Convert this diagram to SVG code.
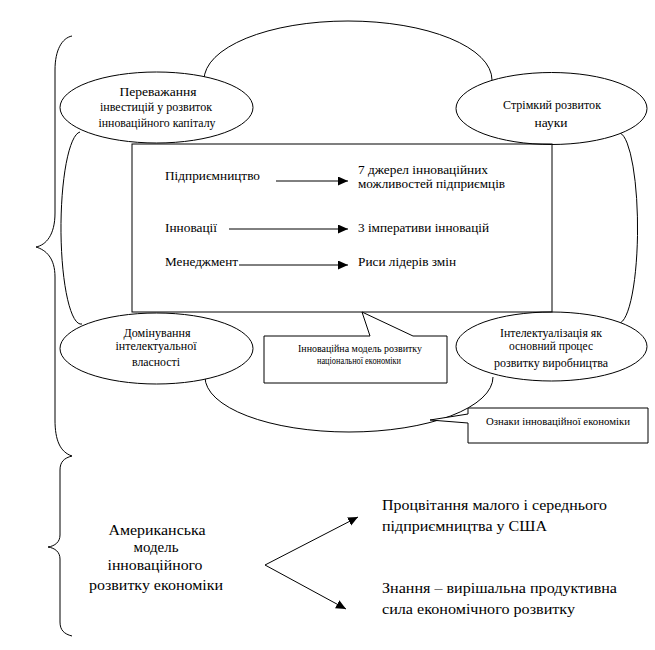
<svg xmlns="http://www.w3.org/2000/svg" width="655" height="650" viewBox="0 0 655 650" font-family="'Liberation Serif', 'Times New Roman', 'DejaVu Serif', serif">
<style>
.ln{fill:none;stroke:#000;stroke-width:1}
.nd{fill:#fff;stroke:#000;stroke-width:1}
text{font-family:'Liberation Serif','Times New Roman','DejaVu Serif',serif;fill:#000}
.e{font-size:12px;text-anchor:middle}
.c{font-size:12.5px}
.s{font-size:10px;text-anchor:middle}
.b{font-size:15px}
</style>
<defs>
<marker id="ah" markerUnits="userSpaceOnUse" markerWidth="11" markerHeight="10" refX="10" refY="4.5" orient="auto">
<path d="M0,0 L10,4.5 L0,9 Z" fill="#000"/>
</marker>
</defs>
<rect width="655" height="650" fill="#fff"/>
<g id="connectors">
<path class="ln" d="M72,36 C62,38 55,50 55,70 L55,213 C55,235 46,245 36,247 C46,250 55,258 55,277 L55,420 C55,440 60,452 72,456"/>
<path class="ln" d="M72,456 C64,458 60,462 60,470 L60,535 C60,542 55,546 48,547 C55,548 60,552 60,559 L60,622 C60,630 64,634 72,636"/>
<path class="ln" d="M204,80 A144,59 0 0 1 492,80"/>
<path class="ln" d="M205,377 A144,55 0 0 0 493,377"/>
<path class="ln" d="M80,132 A20,96 0 0 0 82,324"/>
<path class="ln" d="M620,133 A19,95 0 0 1 617,323"/>
<line class="ln" x1="276" y1="181" x2="348" y2="181" marker-end="url(#ah)"/>
<line class="ln" x1="229" y1="229" x2="348" y2="229" marker-end="url(#ah)"/>
<line class="ln" x1="239" y1="265" x2="348" y2="265" marker-end="url(#ah)"/>
<line class="ln" x1="265" y1="565" x2="358" y2="517" marker-end="url(#ah)"/>
<line class="ln" x1="265" y1="565" x2="346" y2="609" marker-end="url(#ah)"/>
</g>
<g id="n1"><ellipse class="nd" cx="156.5" cy="107.5" rx="96.5" ry="35.5"/>
<text class="e" x="158" y="96" textLength="77" lengthAdjust="spacingAndGlyphs">Переважання</text>
<text class="e" x="156" y="111" textLength="112" lengthAdjust="spacingAndGlyphs">інвестицій у розвиток</text>
<text class="e" x="157" y="127" textLength="117" lengthAdjust="spacingAndGlyphs">інноваційного капіталу</text></g>
<g id="n2"><ellipse class="nd" cx="551.5" cy="108.5" rx="95.5" ry="36"/>
<text class="e" x="552" y="109" textLength="98" lengthAdjust="spacingAndGlyphs">Стрімкий розвиток</text>
<text class="e" x="551" y="127" textLength="33" lengthAdjust="spacingAndGlyphs">науки</text></g>
<g id="n3"><ellipse class="nd" cx="156.5" cy="348.5" rx="96.5" ry="35.5"/>
<text class="e" x="157" y="337" textLength="67" lengthAdjust="spacingAndGlyphs">Домінування</text>
<text class="e" x="156" y="350" textLength="81" lengthAdjust="spacingAndGlyphs">інтелектуальної</text>
<text class="e" x="156" y="366" textLength="48" lengthAdjust="spacingAndGlyphs">власності</text></g>
<g id="n4"><ellipse class="nd" cx="551.5" cy="346.5" rx="95.5" ry="34.5"/>
<text class="e" x="551" y="337" textLength="102" lengthAdjust="spacingAndGlyphs">Інтелектуалізація як</text>
<text class="e" x="551" y="350" textLength="84" lengthAdjust="spacingAndGlyphs">основний процес</text>
<text class="e" x="551" y="367" textLength="114" lengthAdjust="spacingAndGlyphs">розвитку виробництва</text></g>
<g id="core"><rect class="ln" x="132" y="144" width="420" height="168"/>
<text class="c" x="165" y="180" textLength="95" lengthAdjust="spacingAndGlyphs">Підприємництво</text>
<text class="c" x="358" y="174" textLength="130" lengthAdjust="spacingAndGlyphs">7 джерел інноваційних</text>
<text class="c" x="358" y="188" textLength="147" lengthAdjust="spacingAndGlyphs">можливостей підприємців</text>
<text class="c" x="165" y="232" textLength="52" lengthAdjust="spacingAndGlyphs">Інновації</text>
<text class="c" x="358" y="232" textLength="131" lengthAdjust="spacingAndGlyphs">3 імперативи інновацій</text>
<text class="c" x="165" y="266" textLength="73" lengthAdjust="spacingAndGlyphs">Менеджмент</text>
<text class="c" x="358" y="266" textLength="98" lengthAdjust="spacingAndGlyphs">Риси лідерів змін</text></g>
<g id="callout1"><path class="nd" d="M264,336 L370,336 L362,312 L413,336 L447,336 L447,383 L264,383 Z"/>
<text class="s" x="360" y="352" textLength="124" lengthAdjust="spacingAndGlyphs">Інноваційна модель розвитку</text>
<text class="s" x="359" y="364" textLength="84" lengthAdjust="spacingAndGlyphs">національної економіки</text></g>
<g id="callout2"><path class="nd" d="M468,408 L648,408 L648,443 L468,443 L468,423 L430,420 L468,414 Z"/>
<text class="s" x="558" y="425" textLength="144" lengthAdjust="spacingAndGlyphs">Ознаки інноваційної економіки</text></g>
<g id="american">
<text class="b" x="157" y="535" text-anchor="middle" textLength="97" lengthAdjust="spacingAndGlyphs">Американська</text>
<text class="b" x="156" y="552" text-anchor="middle" textLength="45" lengthAdjust="spacingAndGlyphs">модель</text>
<text class="b" x="155" y="570" text-anchor="middle" textLength="95" lengthAdjust="spacingAndGlyphs">інноваційного</text>
<text class="b" x="156" y="590" text-anchor="middle" textLength="134" lengthAdjust="spacingAndGlyphs">розвитку економіки</text></g>
<g id="r1"><text class="b" x="382" y="510" textLength="225" lengthAdjust="spacingAndGlyphs">Процвітання малого і середнього</text>
<text class="b" x="382" y="531" textLength="165" lengthAdjust="spacingAndGlyphs">підприємництва у США</text></g>
<g id="r2"><text class="b" x="382" y="593" textLength="235" lengthAdjust="spacingAndGlyphs">Знання – вирішальна продуктивна</text>
<text class="b" x="382" y="614" textLength="193" lengthAdjust="spacingAndGlyphs">сила економічного розвитку</text></g>
</svg>
